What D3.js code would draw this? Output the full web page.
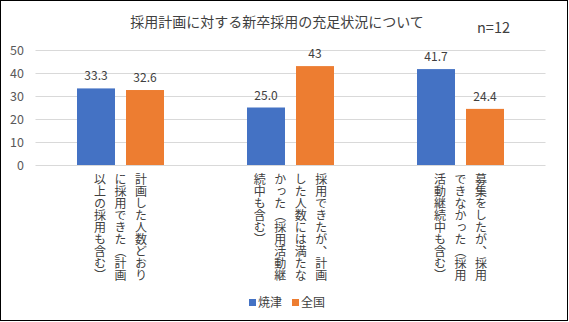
<!DOCTYPE html>
<html><head><meta charset="utf-8">
<script src="https://cdn.jsdelivr.net/npm/d3@7"></script>
<style>
html,body{margin:0;padding:0;background:#fff;}
svg{display:block;font-family:"Noto Sans CJK JP","Noto Sans",sans-serif;}
</style></head>
<body>
<svg id="chart" width="569" height="322"></svg>
<script>
const title = "採用計画に対する新卒採用の充足状況について";
const note = "n=12";
const categories = [
  "計画した人数どおりに採用できた（計画以上の採用も含む）",
  "採用できたが、計画した人数には満たなかった（採用活動継続中も含む）",
  "募集をしたが、採用できなかった（採用活動継続中も含む）"
];
const seriesNames = ["焼津", "全国"];
const yaizu = [33.3, 25.0, 41.7];
const zenkoku = [32.6, 43, 24.4];
const yaizuLabels = ["33.3", "25.0", "41.7"];
const zenkokuLabels = ["32.6", "43", "24.4"];
const yTicks = [0, 10, 20, 30, 40, 50];
const colors = ["#4472C4", "#ED7D31"];

const svg = d3.select("#chart");
svg.append("rect").attr("x",0.5).attr("y",0.5).attr("width",567).attr("height",320)
  .attr("fill","#fff").attr("stroke","#000").attr("stroke-width",1);

const x0 = d3.scaleBand().domain(categories).range([35.5, 545.5]).padding(0);
const x1 = d3.scaleBand().domain(seriesNames).range([-43.5, 43.5]).paddingInner(11/49).paddingOuter(0);
const y = d3.scaleLinear().domain([0, 50]).range([165, 50]);

// gridlines
svg.append("g").selectAll("line").data(yTicks).join("line")
  .attr("x1", 35.5).attr("x2", 545.5)
  .attr("y1", d => Math.round(y(d)) + 0.5).attr("y2", d => Math.round(y(d)) + 0.5)
  .attr("stroke", "#d9d9d9").attr("stroke-width", 1);

// y axis labels
const yAxis = d3.axisLeft(y).tickValues(yTicks).tickSize(0).tickPadding(0);
const ga = svg.append("g").attr("transform", "translate(24,0)").call(yAxis);
ga.select(".domain").remove();
ga.selectAll("text").attr("font-size", 12.5).attr("fill", "#595959")
  .attr("font-family", '"Noto Sans CJK JP","Noto Sans",sans-serif');

// bars
const rows = categories.map((c, i) => ({
  cat: c,
  vals: [
    {s: seriesNames[0], v: yaizu[i], label: yaizuLabels[i], color: colors[0]},
    {s: seriesNames[1], v: zenkoku[i], label: zenkokuLabels[i], color: colors[1]}
  ]
}));
const groups = svg.append("g").selectAll("g").data(rows).join("g")
  .attr("transform", d => `translate(${x0(d.cat) + x0.bandwidth()/2},0)`);
groups.selectAll("rect").data(d => d.vals).join("rect")
  .attr("x", d => x1(d.s)).attr("width", x1.bandwidth())
  .attr("y", d => y(d.v)).attr("height", d => y(0) - y(d.v))
  .attr("fill", d => d.color);
groups.selectAll("text.lbl").data(d => d.vals).join("text").attr("class","lbl")
  .attr("x", d => x1(d.s) + x1.bandwidth()/2)
  .attr("y", d => y(d.v) - 8)
  .attr("text-anchor", "middle").attr("font-size", 12).attr("fill", "#404040")
  .text(d => d.label);

// category labels (vertical)
const lineSpacing = 20.5;
rows.forEach(r => {
  const lines = r.cat.match(/.{1,9}/gu);
  const cx = x0(r.cat) + x0.bandwidth()/2;
  const k = lines.length;
  svg.append("g").selectAll("text").data(lines).join("text")
    .attr("x", (d, i) => cx + (k - 1) / 2 * lineSpacing - i * lineSpacing)
    .attr("y", 173)
    .style("writing-mode", "vertical-rl")
    .attr("font-size", 12).attr("fill", "#404040")
    .text(d => d);
});

// title
svg.append("text").attr("x", 277).attr("y", 27).attr("text-anchor", "middle")
  .attr("font-size", 14).attr("fill", "#404040").text(title);
svg.append("text").attr("x", 477).attr("y", 33)
  .attr("font-size", 14.5).attr("fill", "#404040").text(note);

// legend
const leg = svg.append("g").selectAll("g").data(seriesNames).join("g")
  .attr("transform", (d, i) => `translate(${249 + i * 43},0)`);
leg.append("rect").attr("x", 0).attr("y", 299).attr("width", 7).attr("height", 7)
  .attr("fill", (d, i) => colors[i]);
leg.append("text").attr("x", 9).attr("y", 307).attr("font-size", 12).attr("fill", "#404040")
  .text(d => d);
</script>
</body></html>
